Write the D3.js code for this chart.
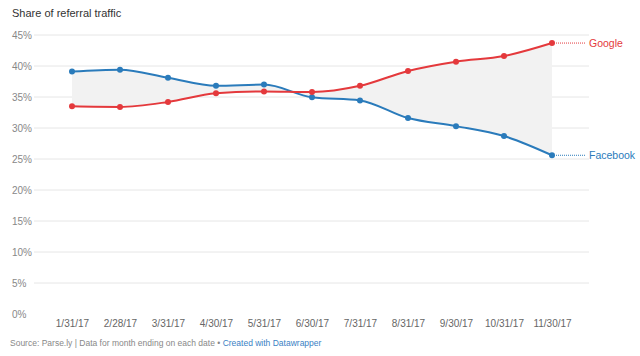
<!DOCTYPE html>
<html><head><meta charset="utf-8">
<script src="https://cdn.jsdelivr.net/npm/d3@7"></script>
<style>body{margin:0;background:#fff;font-family:"Helvetica Neue",Helvetica,Arial,"Liberation Sans",sans-serif}</style>
</head><body><svg id="c" width="640" height="356"></svg>
<script>
const dates = ["1/31/17","2/28/17","3/31/17","4/30/17","5/31/17","6/30/17","7/31/17","8/31/17","9/30/17","10/31/17","11/30/17"];
const google = [33.5,33.4,34.2,35.6,35.9,35.8,36.8,39.2,40.7,41.6,43.7];
const facebook = [39.1,39.4,38.1,36.8,37.0,34.95,34.45,31.6,30.3,28.7,25.6];
const yTicks = [0,5,10,15,20,25,30,35,40,45];

const svg = d3.select("#c");
const x = d3.scalePoint().domain(dates).range([72,552]);
const y = d3.scaleLinear().domain([0,45]).range([314,35]);
const cGoogle = "#e4393c", cFb = "#2a7bbb";

svg.append("text").attr("x",12).attr("y",17).attr("font-size",11).attr("fill","#333").text("Share of referral traffic");

const yg = svg.append("g");
yTicks.forEach(t=>{
  if(t>0) yg.append("line").attr("x1",34).attr("x2",589).attr("y1",y(t)).attr("y2",y(t)).attr("stroke","#e6e6e6").attr("stroke-width",1);
  yg.append("text").attr("x",12).attr("y",y(t)).attr("dy","0.35em").attr("font-size",10).attr("fill","#888").text(t+"%");
});

const rows = dates.map((d,i)=>({d,g:google[i],f:facebook[i]}));
const curve = d3.curveMonotoneX;
svg.append("path").datum(rows)
  .attr("d", d3.area().x(r=>x(r.d)).y0(r=>y(r.g)).y1(r=>y(r.f)).curve(curve))
  .attr("fill","#f2f2f2");

function series(vals,col,name){
  const data = dates.map((d,i)=>({d,v:vals[i]}));
  svg.append("path").datum(data).attr("fill","none").attr("stroke",col).attr("stroke-width",2)
    .attr("d", d3.line().x(r=>x(r.d)).y(r=>y(r.v)).curve(curve));
  svg.append("g").selectAll("circle").data(data).join("circle")
    .attr("cx",r=>x(r.d)).attr("cy",r=>y(r.v)).attr("r",3).attr("fill",col);
  const last = data[data.length-1];
  svg.append("line").attr("x1",x(last.d)+4).attr("x2",586).attr("y1",y(last.v)).attr("y2",y(last.v))
    .attr("stroke",col).attr("stroke-width",1).attr("stroke-dasharray","1,1");
  svg.append("text").attr("x",589).attr("y",y(last.v)).attr("dy","0.35em").attr("font-size",10.5).attr("fill",col).text(name);
}
series(facebook,cFb,"Facebook");
series(google,cGoogle,"Google");

const xg = svg.append("g").attr("transform","translate(0,323)")
  .call(d3.axisBottom(x).tickSize(0).tickPadding(0));
xg.select(".domain").remove();
xg.selectAll("text").attr("font-size",10).attr("fill","#666").attr("font-family","inherit").attr("dy","0.35em");

const src = svg.append("text").attr("x",10).attr("y",346).attr("font-size",8.5).attr("fill","#888");
src.append("tspan").text("Source: Parse.ly | Data for month ending on each date • ");
src.append("tspan").attr("fill","#3a7fc4").text("Created with Datawrapper");
</script></body></html>
